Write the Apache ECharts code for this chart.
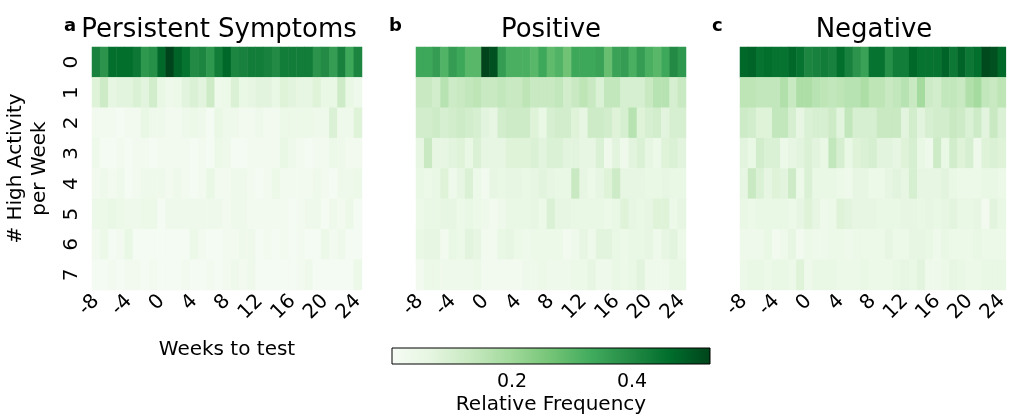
<!DOCTYPE html>
<html><head><meta charset="utf-8">
<script src="https://cdn.jsdelivr.net/npm/echarts@6/dist/echarts.min.js"></script>
<style>html,body{margin:0;padding:0;background:#fff}#c{width:1011px;height:416px}</style>
</head><body><div id="c"></div>
<script>
// weeks relative to test, activity counts per week
var weeks = [];
for (var w = -8; w <= 24; w++) weeks.push(String(w));
var counts = ['0','1','2','3','4','5','6','7'];

// relative frequency x100, one row per activity count
var persistent = [
  [42,38,46,46,46,44,37,39,47,53,48,45,40,41,37,43,47,41,42,43,43,42,40,43,43,43,43,38,40,36,42,34,41],
  [8,12,6,7,7,9,7,11,5,3,4,7,9,7,12,3,4,9,5,6,7,7,5,8,7,6,6,8,5,5,12,5,3],
  [2,2,2,1,2,2,5,3,3,2,2,3,4,3,1,5,3,3,2,2,3,2,2,4,4,4,4,3,3,9,3,3,8],
  [3,1,1,2,1,2,2,1,2,2,2,2,1,2,1,4,3,1,1,2,2,2,2,5,3,2,1,2,2,4,3,2,2],
  [2,3,2,3,1,2,3,3,3,2,3,2,1,2,5,2,2,3,3,2,1,2,4,2,2,2,2,3,2,1,3,3,4],
  [4,4,5,4,3,3,4,4,1,3,3,3,3,3,3,3,2,3,3,2,2,2,2,2,1,2,3,3,1,3,2,4,1],
  [2,4,1,2,5,1,1,1,1,1,1,1,4,2,1,1,2,2,3,3,1,2,1,2,1,2,1,1,4,2,3,1,1],
  [1,1,2,1,2,2,1,2,1,1,1,2,1,1,2,1,2,3,2,3,1,1,1,1,1,2,3,1,1,1,1,1,4]
];
var positive = [
  [34,34,36,31,36,34,30,30,53,51,36,32,32,32,30,34,29,31,27,34,34,34,35,28,35,36,32,36,32,30,34,40,37],
  [13,13,11,16,12,13,14,15,13,13,14,13,13,15,13,13,13,14,11,13,15,13,9,14,14,10,10,10,13,16,16,10,13],
  [11,11,12,10,11,12,11,10,7,6,11,12,12,12,8,5,10,11,11,8,6,12,12,11,8,10,16,8,10,11,7,10,10],
  [6,13,6,6,7,8,5,9,6,6,6,8,8,8,9,7,9,9,7,7,6,6,9,3,7,3,7,9,6,4,8,9,7],
  [5,4,5,8,3,6,9,4,2,6,5,6,6,5,6,7,6,5,5,13,6,4,6,8,12,6,6,6,5,5,6,5,5],
  [4,5,5,6,6,4,5,4,3,2,3,5,5,5,6,4,9,6,6,5,5,5,5,4,5,8,6,5,6,8,8,4,6],
  [5,6,6,2,5,4,7,6,2,2,5,6,4,3,4,4,4,4,2,3,6,3,7,7,5,4,5,5,6,3,6,7,4],
  [2,4,4,3,3,3,3,4,2,2,2,2,2,3,3,4,3,3,3,4,4,6,3,3,5,4,5,7,3,3,3,5,5]
];
var negative = [
  [47,48,45,46,45,45,47,45,41,42,43,42,46,42,38,35,45,45,39,43,43,47,45,45,45,48,44,48,44,46,52,51,47],
  [15,15,14,14,14,17,13,18,18,16,15,14,15,16,16,18,15,15,13,14,16,13,19,12,11,14,14,13,17,19,14,13,15],
  [12,11,8,8,14,14,10,6,9,10,10,12,7,14,10,10,10,13,13,13,7,11,7,10,11,11,13,12,9,12,7,13,9],
  [7,5,11,9,9,4,6,7,9,7,5,14,10,5,8,9,10,7,7,6,8,10,5,3,12,5,11,8,10,3,8,9,8],
  [6,13,9,6,8,7,12,4,9,5,5,5,4,3,6,6,4,4,6,7,6,10,6,6,6,7,5,4,4,4,5,5,4],
  [5,4,5,5,5,5,4,6,8,6,3,4,8,7,6,6,6,5,5,5,6,6,5,6,5,6,7,5,5,6,2,7,5],
  [3,3,3,5,2,3,6,2,4,3,3,4,4,3,4,4,4,4,6,4,4,6,6,5,3,5,4,4,4,5,4,4,4],
  [4,5,5,4,5,5,4,8,3,5,5,5,4,4,4,5,4,4,4,5,6,5,7,3,3,4,6,5,4,4,5,5,5]
];
var titles = ['Persistent Symptoms','Positive','Negative'];
var letters = ['a','b','c'];
var panels = [persistent, positive, negative];
var greens = ['#f7fcf5','#e5f5e0','#c7e9c0','#a1d99b','#74c476','#41ab5d','#238b45','#006d2c','#00441b'];
var vmax = 0.53;
var barTicks = ['0.2','0.4'];

function toCells(m){
  var out = [];
  for (var r=0;r<m.length;r++) for (var c=0;c<m[r].length;c++) out.push([c,r,m[r][c]/100]);
  return out;
}

var font = 'DejaVu Sans';
var lefts = [92,416,740];
var grids = [], xAxes = [], yAxes = [], series = [], graphics = [];
for (var i=0;i<3;i++){
  var gw = i==2?268:270;
  grids.push({left:lefts[i], top:47, width:gw, height:243});
  xAxes.push({type:'category', gridIndex:i, data:weeks,
    name: i==0?'Weeks to test':'', nameLocation:'middle', nameGap:50,
    nameTextStyle:{fontFamily:font,fontSize:20,color:'#000'},
    axisLine:{show:false}, axisTick:{length:3,lineStyle:{color:'#000'},alignWithLabel:true, interval:0},
    axisLabel:{interval:3, rotate:45, fontFamily:font, fontSize:20, color:'#000', margin:8}});
  yAxes.push({type:'category', gridIndex:i, data:counts, inverse:true,
    name: i==0?'# High Activity\nper Week':'', nameLocation:'middle', nameGap:40, nameRotate:90,
    nameTextStyle:{fontFamily:font,fontSize:20,color:'#000',lineHeight:24},
    axisLine:{show:false}, axisTick:{length:4,lineStyle:{color:'#000'},alignWithLabel:true},
    axisLabel:{show:i==0, rotate:90, fontFamily:font, fontSize:20, color:'#000', margin:10}});
  series.push({type:'heatmap', xAxisIndex:i, yAxisIndex:i, data:toCells(panels[i])});
  graphics.push({type:'text', x:lefts[i]+gw/2 + (i==0?-8:0), y:30, style:{text:titles[i], font:'26px DejaVu Sans', fill:'#000', align:'center', verticalAlign:'middle'}});
  graphics.push({type:'text', x:[64,389,712][i], y:26, style:{text:letters[i], font:'bold 18px DejaVu Sans', fill:'#000', verticalAlign:'middle'}});
}
// colorbar axis
grids.push({left:392, top:348, width:318, height:16});
xAxes.push({type:'value', gridIndex:3, min:0, max:vmax, interval:0.2,
  name:'Relative Frequency', nameLocation:'middle', nameGap:42,
  nameTextStyle:{fontFamily:font,fontSize:20,color:'#000'},
  axisLine:{show:false}, splitLine:{show:false}, axisTick:{show:true,length:4,lineStyle:{color:'#000'}},
  axisLabel:{fontFamily:font,fontSize:19,color:'#000',margin:20, showMaxLabel:false,
    formatter:function(v){var s=v.toFixed(1); return barTicks.indexOf(s)>=0?s:'';}}});
yAxes.push({type:'value', gridIndex:3, show:false, min:0, max:1});
series.push({type:'scatter', xAxisIndex:3, yAxisIndex:3, data:[], silent:true});
var stops = greens.map(function(c,k){return {offset:k/(greens.length-1), color:c};});
graphics.push({type:'rect', x:392, y:348, shape:{width:318,height:16},
  style:{fill:new echarts.graphic.LinearGradient(0,0,1,0,stops), stroke:'#000', lineWidth:1}, z:100});

var chart = echarts.init(document.getElementById('c'));
chart.setOption({
  animation:false,
  grid:grids, xAxis:xAxes, yAxis:yAxes, series:series, graphic:graphics,
  visualMap:{type:'continuous', show:false, min:0, max:vmax, seriesIndex:[0,1,2], inRange:{color:greens}}
});
</script></body></html>
